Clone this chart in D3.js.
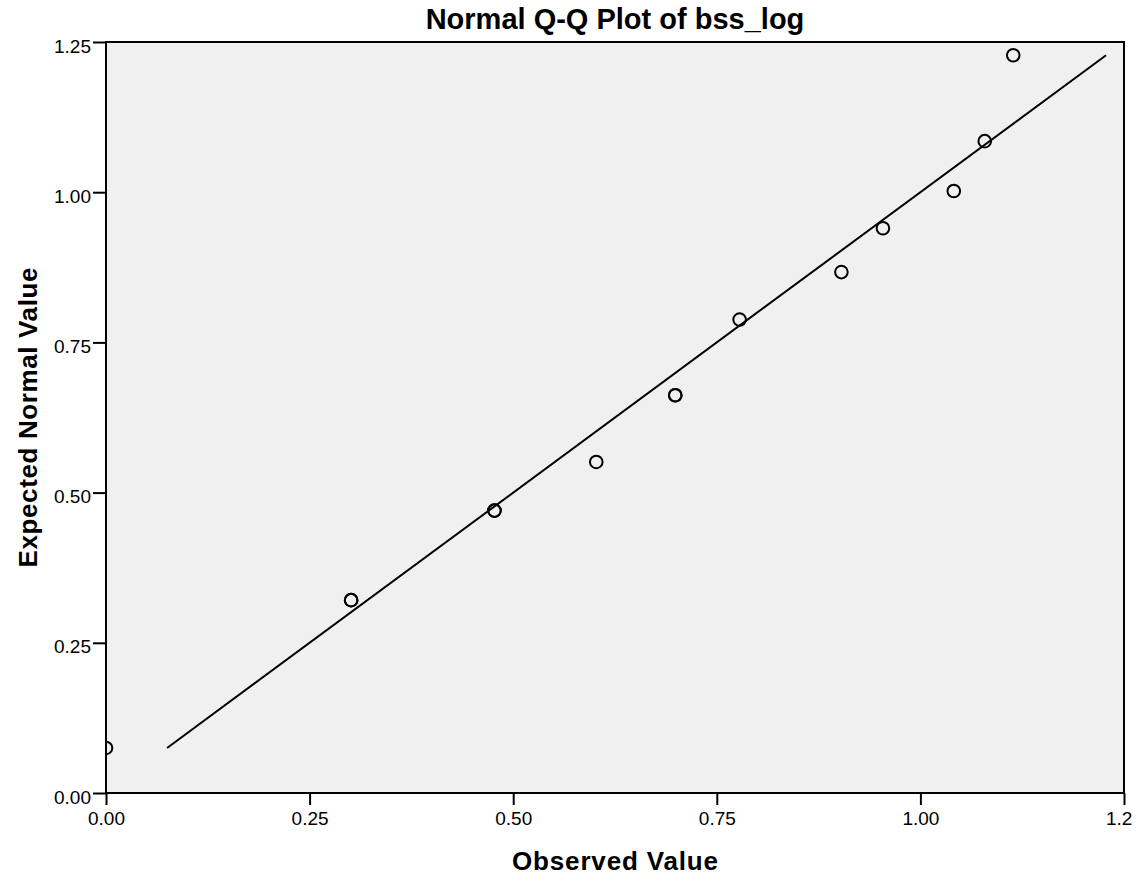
<!DOCTYPE html>
<html>
<head>
<meta charset="utf-8">
<script src="https://cdn.jsdelivr.net/npm/d3@7"></script>
<style>
  html, body { margin: 0; padding: 0; background: #ffffff; }
  svg { display: block; font-family: "Liberation Sans", Arial, sans-serif; }
</style>
</head>
<body>
<svg id="chart" width="1148" height="884"></svg>
<script>
// Observed (log10 of bss) and expected normal quantiles
const observed = [0.000, 0.301, 0.301, 0.477, 0.477, 0.602, 0.699, 0.699, 0.778, 0.903, 0.954, 1.041, 1.079, 1.114];
const expected = [0.075, 0.321, 0.321, 0.470, 0.470, 0.551, 0.662, 0.662, 0.788, 0.867, 0.940, 1.002, 1.085, 1.228];
const xTicks = [0, 0.25, 0.5, 0.75, 1.0, 1.25];
const yTicks = [0, 0.25, 0.5, 0.75, 1.0, 1.25];

const svg = d3.select("#chart");
const plot = { left: 106, right: 1124, top: 42, bottom: 793 };

const x = d3.scaleLinear().domain([0, 1.25]).range([plot.left, plot.right]);
const y = d3.scaleLinear().domain([0, 1.25]).range([plot.bottom, plot.top]);

const defs = svg.append("defs");
defs.append("clipPath").attr("id", "plotClip")
  .append("rect")
  .attr("x", plot.left).attr("y", plot.top)
  .attr("width", plot.right - plot.left).attr("height", plot.bottom - plot.top);
defs.append("clipPath").attr("id", "pageClip")
  .append("rect").attr("x", 0).attr("y", 0).attr("width", 1132).attr("height", 884);

// Plot background
svg.append("rect")
  .attr("x", plot.left).attr("y", plot.top)
  .attr("width", plot.right - plot.left).attr("height", plot.bottom - plot.top)
  .attr("fill", "#f0f0f0");

const marks = svg.append("g").attr("clip-path", "url(#plotClip)");

// Reference line y = x across the range of expected values
const lineExtent = d3.extent(expected);
marks.append("line")
  .attr("x1", x(lineExtent[0])).attr("y1", y(lineExtent[0]))
  .attr("x2", x(lineExtent[1])).attr("y2", y(lineExtent[1]))
  .attr("stroke", "#000").attr("stroke-width", 2);

// Points
marks.selectAll("circle.pt")
  .data(observed.map((v, i) => ({ o: v, e: expected[i] })))
  .join("circle")
  .attr("class", "pt")
  .attr("cx", d => x(d.o))
  .attr("cy", d => y(d.e))
  .attr("r", 6.3)
  .attr("fill", "none")
  .attr("stroke", "#000")
  .attr("stroke-width", 2);

// Frame
svg.append("rect")
  .attr("x", plot.left).attr("y", plot.top)
  .attr("width", plot.right - plot.left).attr("height", plot.bottom - plot.top)
  .attr("fill", "none").attr("stroke", "#000").attr("stroke-width", 2);

// X axis
const xAxis = svg.append("g")
  .attr("transform", `translate(0,${plot.bottom})`)
  .attr("clip-path", "url(#pageClip)")
  .call(d3.axisBottom(x).tickValues(xTicks).tickFormat(d3.format(".2f")).tickSize(12).tickPadding(2));
xAxis.select(".domain").remove();
xAxis.selectAll(".tick line").attr("stroke", "#000").attr("stroke-width", 2);
xAxis.selectAll(".tick text")
  .attr("font-size", 19).attr("fill", "#000")
  .attr("font-family", "'Liberation Sans', Arial, sans-serif")
  .attr("dy", null).attr("y", 32);

// Y axis
const yAxis = svg.append("g")
  .attr("transform", `translate(${plot.left},0)`)
  .call(d3.axisLeft(y).tickValues(yTicks).tickFormat(d3.format(".2f")).tickSize(13).tickPadding(2));
yAxis.select(".domain").remove();
yAxis.selectAll(".tick line").attr("stroke", "#000").attr("stroke-width", 2);
yAxis.selectAll(".tick text")
  .attr("font-size", 19).attr("fill", "#000")
  .attr("font-family", "'Liberation Sans', Arial, sans-serif")
  .attr("x", -15).attr("dy", null).attr("y", 10);

// Title
svg.append("text")
  .attr("x", (plot.left + plot.right) / 2).attr("y", 29)
  .attr("text-anchor", "middle")
  .attr("font-size", 29).attr("font-weight", "bold")
  .text("Normal Q-Q Plot of bss_log");

// Axis titles
svg.append("text")
  .attr("x", (plot.left + plot.right) / 2).attr("y", 870)
  .attr("text-anchor", "middle")
  .attr("font-size", 26).attr("font-weight", "bold")
  .attr("textLength", 206).attr("lengthAdjust", "spacing")
  .text("Observed Value");

svg.append("text")
  .attr("transform", `translate(37,${(plot.top + plot.bottom) / 2}) rotate(-90)`)
  .attr("text-anchor", "middle")
  .attr("font-size", 26).attr("font-weight", "bold")
  .attr("textLength", 300).attr("lengthAdjust", "spacing")
  .text("Expected Normal Value");
</script>
</body>
</html>
